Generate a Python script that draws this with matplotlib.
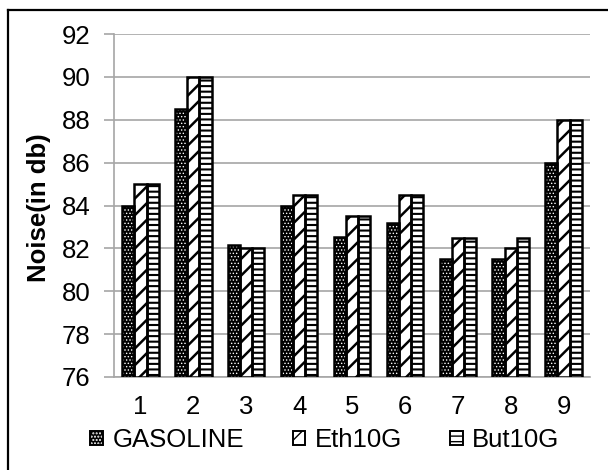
import matplotlib
matplotlib.use("Agg")
import matplotlib.pyplot as plt
import numpy as np
from matplotlib.patches import Patch
from matplotlib.legend_handler import HandlerTuple
from matplotlib.lines import Line2D

plt.rcParams['font.family'] = ['Liberation Sans', 'DejaVu Sans']

categories = ['1', '2', '3', '4', '5', '6', '7', '8', '9']
gasoline = [84.0, 88.5, 82.15, 84.0, 82.55, 83.2, 81.5, 81.5, 86.0]
eth10g = [85.0, 90.0, 82.0, 84.5, 83.5, 84.5, 82.5, 82.0, 88.0]
but10g = [85.0, 90.0, 82.0, 84.5, 83.5, 84.5, 82.5, 82.5, 88.0]
series_names = ['GASOLINE', 'Eth10G', 'But10G']
y_ticks = [76, 78, 80, 82, 84, 86, 88, 90, 92]

FS = 18.5

fig = plt.figure(figsize=(6.08, 4.70), dpi=100)
ax = fig.add_axes([114 / 608, 1 - 377 / 470, (590 - 114) / 608, (377 - 34) / 470])

x = np.arange(1, len(categories) + 1)
w = 0.23
base = y_ticks[0]
grid_col = '#a6a6a6'

styles = [('black', '.....', 'white', 0.6),
          ('white', '//', 'black', 1.8),
          ('white', '---', 'black', 1.5)]

def bars(vals, offset, style):
    face, hatch, hcol, hlw = style
    heights = np.array(vals) - base
    with plt.rc_context({'hatch.linewidth': hlw, 'hatch.color': hcol}):
        ax.bar(x + offset, heights, w, bottom=base, color=face,
               edgecolor=hcol, hatch=hatch, linewidth=0, zorder=3)
    ax.bar(x + offset, heights, w, bottom=base, fill=False,
           edgecolor='black', linewidth=1.8, zorder=4)

bars(gasoline, -w, styles[0])
bars(eth10g, 0, styles[1])
bars(but10g, w, styles[2])

ax.set_xlim(0.5, 9.5)
ax.set_ylim(76, 92)
ax.set_yticks(y_ticks)
ax.set_xticks(x)
ax.set_xticklabels(categories)
ax.yaxis.grid(True, color=grid_col, linewidth=1.2, zorder=0)
ax.set_axisbelow(True)
for s in ['top', 'right']:
    ax.spines[s].set_visible(False)
for s in ['left', 'bottom']:
    ax.spines[s].set_color(grid_col)
    ax.spines[s].set_linewidth(1.2)
ax.tick_params(axis='y', direction='out', length=7, width=1.2, color=grid_col,
               labelsize=FS, pad=10)
ax.tick_params(axis='x', length=0, labelsize=FS, pad=13)
ax.set_ylabel('Noise(in db)', fontsize=FS, fontweight='bold')
ax.yaxis.set_label_coords((51 - 114) / 476, 0.5 - 2 / 343)

handles = []
for face, hatch, hcol, hlw in styles:
    with plt.rc_context({'hatch.linewidth': hlw, 'hatch.color': hcol}):
        p1 = Patch(facecolor=face, edgecolor=hcol, hatch=hatch, linewidth=0)
    p2 = Patch(fill=False, edgecolor='black', linewidth=1.4)
    handles.append((p1, p2))

fig.legend(handles, series_names, loc='center', bbox_to_anchor=(325 / 608, 1 - 440 / 470),
           ncol=3, frameon=False, fontsize=FS, handlelength=0.5, handleheight=0.5,
           handletextpad=0.35, columnspacing=1.9, borderpad=0, borderaxespad=0,
           handler_map={tuple: HandlerTuple(ndivide=1, pad=0)})

# outer frame edges
fig.add_artist(Line2D([8 / 608, 8 / 608], [0, 1 - 10 / 470], color='black', linewidth=1.6,
                      transform=fig.transFigure))
fig.add_artist(Line2D([8 / 608, 1], [1 - 10 / 470, 1 - 10 / 470], color='black', linewidth=1.6,
                      transform=fig.transFigure))

fig.savefig('out.png', dpi=100, facecolor='white')
